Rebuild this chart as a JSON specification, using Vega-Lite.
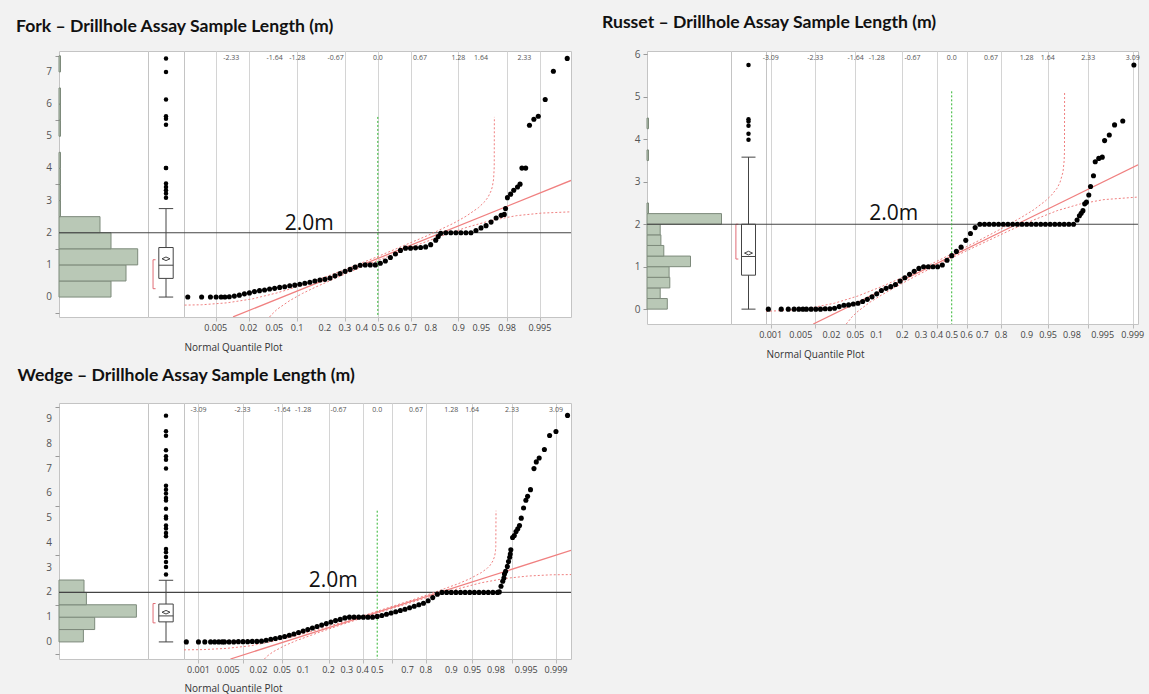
{
"$schema": "https://vega.github.io/schema/vega-lite/v6.json",
"background": "#f2f2f2",
"padding": {"left": 15, "top": 13, "right": 5, "bottom": 0},
"columns": 7,
"spacing": {"row": 79, "column": 0},
"bounds": "flush",
"align": "each",
"config": {
  "font": "Open Sans",
  "view": {"stroke": "#c4c4c4", "fill": "white"},
  "axis": {"labelFont": "Open Sans", "titleFont": "Open Sans", "labelOverlap": false}
},
"datasets": {
  "tl": [{"z":-3.09,"t":"-3.09"},{"z":-2.33,"t":"-2.33"},{"z":-1.64,"t":"-1.64"},{"z":-1.28,"t":"-1.28"},{"z":-0.67,"t":"-0.67"},{"z":0,"t":"0.0"},{"z":0.67,"t":"0.67"},{"z":1.28,"t":"1.28"},{"z":1.64,"t":"1.64"},{"z":2.33,"t":"2.33"},{"z":3.09,"t":"3.09"}],
  "pl": [{"z":-3.0902,"p":"0.001"},{"z":-2.5758,"p":"0.005"},{"z":-2.0537,"p":"0.02"},{"z":-1.6449,"p":"0.05"},{"z":-1.2816,"p":"0.1"},{"z":-0.8416,"p":"0.2"},{"z":-0.5244,"p":"0.3"},{"z":-0.2533,"p":"0.4"},{"z":0,"p":"0.5"},{"z":0.2533,"p":"0.6"},{"z":0.5244,"p":"0.7"},{"z":0.8416,"p":"0.8"},{"z":1.2816,"p":"0.9"},{"z":1.6449,"p":"0.95"},{"z":2.0537,"p":"0.98"},{"z":2.5758,"p":"0.995"},{"z":3.0902,"p":"0.999"}],
  "fy": [{"v":0,"t":"0"},{"v":1,"t":"1"},{"v":2,"t":"2"},{"v":3,"t":"3"},{"v":4,"t":"4"},{"v":5,"t":"5"},{"v":6,"t":"6"},{"v":7,"t":"7"}],
  "wy": [{"v":0,"t":"0"},{"v":1,"t":"1"},{"v":2,"t":"2"},{"v":3,"t":"3"},{"v":4,"t":"4"},{"v":5,"t":"5"},{"v":6,"t":"6"},{"v":7,"t":"7"},{"v":8,"t":"8"},{"v":9,"t":"9"}],
  "fh": [{"b0":0,"b1":0.5,"c":52},{"b0":0.5,"b1":1,"c":67},{"b0":1,"b1":1.5,"c":78.7},{"b0":1.5,"b1":2,"c":52},{"b0":2,"b1":2.5,"c":41},{"b0":2.5,"b1":3,"c":1.5},{"b0":3,"b1":3.5,"c":1.5},{"b0":3.5,"b1":4,"c":1.5},{"b0":4,"b1":4.5,"c":1.5},{"b0":5,"b1":5.5,"c":1.5},{"b0":5.5,"b1":6,"c":1.5},{"b0":6,"b1":6.5,"c":1.5},{"b0":7,"b1":7.5,"c":1.5}],
  "rh": [{"b0":0,"b1":0.25,"c":20.3},{"b0":0.25,"b1":0.5,"c":13.2},{"b0":0.5,"b1":0.75,"c":22.8},{"b0":0.75,"b1":1,"c":22.1},{"b0":1,"b1":1.25,"c":43.5},{"b0":1.25,"b1":1.5,"c":16.8},{"b0":1.5,"b1":1.75,"c":13.9},{"b0":1.75,"b1":2,"c":13.2},{"b0":2,"b1":2.25,"c":74.5},{"b0":2.25,"b1":2.5,"c":1.5},{"b0":3.5,"b1":3.75,"c":1.5},{"b0":4.25,"b1":4.5,"c":1.5}],
  "wh": [{"b0":0,"b1":0.5,"c":24.4},{"b0":0.5,"b1":1,"c":35.7},{"b0":1,"b1":1.5,"c":77.4},{"b0":1.5,"b1":2,"c":27.4},{"b0":2,"b1":2.5,"c":25}],
  "fb": [{"lo":0,"q1":0.58,"med":0.99,"q3":1.54,"hi":2.75,"mean":1.19,"blo":0.26,"bhi":1.16}],
  "rb": [{"lo":0,"q1":0.80,"med":1.24,"q3":2.0,"hi":3.58,"mean":1.32,"blo":1.18,"bhi":2.0}],
  "wb": [{"lo":0,"q1":0.81,"med":1.05,"q3":1.53,"hi":2.49,"mean":1.2,"blo":0.77,"bhi":1.55}],
  "fo": [{"v":3.09},{"v":3.22},{"v":3.32},{"v":3.42},{"v":3.53},{"v":4.01},{"v":4.01},{"v":5.36},{"v":5.54},{"v":5.62},{"v":6.14},{"v":7.0},{"v":7.42}],
  "ro": [{"v":3.99},{"v":4.13},{"v":4.32},{"v":4.42},{"v":4.47},{"v":5.75}],
  "wo": [{"v":2.72},{"v":3.03},{"v":3.23},{"v":3.43},{"v":3.62},{"v":3.75},{"v":4.27},{"v":4.40},{"v":4.58},{"v":4.70},{"v":4.98},{"v":5.07},{"v":5.38},{"v":5.71},{"v":5.81},{"v":5.99},{"v":6.15},{"v":6.31},{"v":7.0},{"v":7.36},{"v":7.50},{"v":7.74},{"v":8.33},{"v":8.51},{"v":9.14}],
  "fp": [{"z":-3.02,"v":0},{"z":-2.80,"v":0},{"z":-2.66,"v":0},{"z":-2.57,"v":0},{"z":-2.49,"v":0},{"z":-2.43,"v":0},
    {"z":-2.36,"v":0.01},{"z":-2.28,"v":0.03},{"z":-2.20,"v":0.06},{"z":-2.12,"v":0.10},{"z":-2.04,"v":0.13},{"z":-1.96,"v":0.17},{"z":-1.88,"v":0.20},{"z":-1.80,"v":0.22},{"z":-1.72,"v":0.25},{"z":-1.64,"v":0.27},{"z":-1.56,"v":0.30},{"z":-1.48,"v":0.32},{"z":-1.40,"v":0.35},{"z":-1.32,"v":0.37},{"z":-1.24,"v":0.40},{"z":-1.16,"v":0.43},{"z":-1.08,"v":0.46},{"z":-1.00,"v":0.50},{"z":-0.92,"v":0.53},{"z":-0.84,"v":0.55},{"z":-0.76,"v":0.59},{"z":-0.68,"v":0.66},{"z":-0.60,"v":0.73},{"z":-0.52,"v":0.80},{"z":-0.44,"v":0.86},{"z":-0.36,"v":0.93},{"z":-0.28,"v":0.99},{"z":-0.20,"v":1.00},{"z":-0.12,"v":1.00},{"z":-0.04,"v":1.00},{"z":0.04,"v":1.05},{"z":0.12,"v":1.12},{"z":0.20,"v":1.23},{"z":0.28,"v":1.34},{"z":0.36,"v":1.45},{"z":0.44,"v":1.52},{"z":0.52,"v":1.52},{"z":0.60,"v":1.53},{"z":0.68,"v":1.54},{"z":0.76,"v":1.56},{"z":0.84,"v":1.63},{"z":0.92,"v":1.77},{"z":0.96,"v":1.88},{"z":1.00,"v":1.98},{"z":1.08,"v":2.00},{"z":1.16,"v":2.00},{"z":1.24,"v":2.00},{"z":1.32,"v":2.00},{"z":1.40,"v":2.00},{"z":1.48,"v":2.00},{"z":1.56,"v":2.07},{"z":1.64,"v":2.15},{"z":1.72,"v":2.22},{"z":1.80,"v":2.33},{"z":1.88,"v":2.46},{"z":1.96,"v":2.54},{"z":2.01,"v":2.57},
    {"z":2.03,"v":2.75},{"z":2.06,"v":3.09},{"z":2.11,"v":3.20},{"z":2.16,"v":3.32},{"z":2.22,"v":3.42},{"z":2.26,"v":3.51},{"z":2.29,"v":4.01},{"z":2.35,"v":4.01},{"z":2.41,"v":5.34},{"z":2.48,"v":5.53},{"z":2.55,"v":5.62},{"z":2.66,"v":6.14},{"z":2.79,"v":7.02},{"z":3.01,"v":7.42}],
  "rp": [{"z":-3.13,"v":0},{"z":-2.91,"v":0},{"z":-2.79,"v":0},{"z":-2.69,"v":0},{"z":-2.61,"v":0},{"z":-2.54,"v":0},
    {"z":-2.48,"v":0},{"z":-2.40,"v":0},{"z":-2.32,"v":0},{"z":-2.24,"v":0},{"z":-2.16,"v":0.01},{"z":-2.08,"v":0.01},{"z":-2.00,"v":0.02},{"z":-1.92,"v":0.06},{"z":-1.84,"v":0.09},{"z":-1.76,"v":0.10},{"z":-1.68,"v":0.12},{"z":-1.60,"v":0.14},{"z":-1.52,"v":0.18},{"z":-1.44,"v":0.23},{"z":-1.36,"v":0.29},{"z":-1.28,"v":0.36},{"z":-1.20,"v":0.44},{"z":-1.12,"v":0.49},{"z":-1.04,"v":0.53},{"z":-0.96,"v":0.58},{"z":-0.88,"v":0.66},{"z":-0.80,"v":0.74},{"z":-0.72,"v":0.82},{"z":-0.64,"v":0.89},{"z":-0.56,"v":0.96},{"z":-0.48,"v":1.00},{"z":-0.40,"v":1.00},{"z":-0.32,"v":1.00},{"z":-0.24,"v":1.00},{"z":-0.16,"v":1.04},{"z":-0.08,"v":1.15},{"z":0.00,"v":1.26},{"z":0.08,"v":1.36},{"z":0.16,"v":1.46},{"z":0.24,"v":1.62},{"z":0.32,"v":1.78},{"z":0.40,"v":1.92},{"z":0.48,"v":2.00},{"z":0.56,"v":2.00},{"z":0.64,"v":2.00},{"z":0.72,"v":2.00},{"z":0.80,"v":2.00},{"z":0.88,"v":2.00},{"z":0.96,"v":2.00},{"z":1.04,"v":2.00},{"z":1.12,"v":2.00},{"z":1.20,"v":2.00},{"z":1.28,"v":2.00},{"z":1.36,"v":2.00},{"z":1.44,"v":2.00},{"z":1.52,"v":2.00},{"z":1.60,"v":2.00},{"z":1.68,"v":2.00},{"z":1.76,"v":2.00},{"z":1.84,"v":2.00},{"z":1.92,"v":2.00},{"z":2.00,"v":2.00},{"z":2.08,"v":2.00},
    {"z":2.14,"v":2.10},{"z":2.18,"v":2.20},{"z":2.21,"v":2.26},{"z":2.24,"v":2.32},{"z":2.27,"v":2.48},{"z":2.30,"v":2.52},{"z":2.34,"v":2.69},{"z":2.37,"v":2.89},{"z":2.42,"v":3.14},{"z":2.45,"v":3.47},{"z":2.51,"v":3.55},{"z":2.57,"v":3.58},{"z":2.61,"v":3.97},{"z":2.69,"v":4.10},{"z":2.78,"v":4.34},{"z":2.92,"v":4.43},{"z":3.11,"v":5.75}],
  "wp": [{"z":-3.30,"v":0},{"z":-3.09,"v":0},{"z":-2.98,"v":0},{"z":-2.88,"v":0},{"z":-2.81,"v":0},{"z":-2.74,"v":0},{"z":-2.68,"v":0},
    {"z":-2.64,"v":0},{"z":-2.56,"v":0},{"z":-2.48,"v":0},{"z":-2.40,"v":0.01},{"z":-2.32,"v":0.01},{"z":-2.24,"v":0.01},{"z":-2.16,"v":0.02},{"z":-2.08,"v":0.02},{"z":-2.00,"v":0.03},{"z":-1.92,"v":0.07},{"z":-1.84,"v":0.11},{"z":-1.76,"v":0.14},{"z":-1.68,"v":0.18},{"z":-1.60,"v":0.22},{"z":-1.52,"v":0.27},{"z":-1.44,"v":0.32},{"z":-1.36,"v":0.38},{"z":-1.28,"v":0.44},{"z":-1.20,"v":0.50},{"z":-1.12,"v":0.56},{"z":-1.04,"v":0.62},{"z":-0.96,"v":0.68},{"z":-0.88,"v":0.74},{"z":-0.80,"v":0.80},{"z":-0.72,"v":0.86},{"z":-0.64,"v":0.91},{"z":-0.56,"v":0.97},{"z":-0.48,"v":1.00},{"z":-0.40,"v":1.00},{"z":-0.32,"v":1.00},{"z":-0.24,"v":1.00},{"z":-0.16,"v":1.00},{"z":-0.08,"v":1.00},{"z":0.00,"v":1.03},{"z":0.08,"v":1.07},{"z":0.16,"v":1.12},{"z":0.24,"v":1.17},{"z":0.32,"v":1.22},{"z":0.40,"v":1.27},{"z":0.48,"v":1.32},{"z":0.56,"v":1.38},{"z":0.64,"v":1.44},{"z":0.72,"v":1.50},{"z":0.80,"v":1.56},{"z":0.88,"v":1.66},{"z":0.96,"v":1.79},{"z":1.04,"v":1.93},{"z":1.12,"v":2.00},{"z":1.20,"v":2.00},{"z":1.28,"v":2.00},{"z":1.36,"v":2.00},{"z":1.44,"v":2.00},{"z":1.52,"v":2.00},{"z":1.60,"v":2.00},{"z":1.68,"v":2.00},{"z":1.76,"v":2.00},{"z":1.84,"v":2.00},{"z":1.92,"v":2.00},{"z":2.00,"v":2.00},{"z":2.08,"v":2.00},
    {"z":2.11,"v":2.02},{"z":2.14,"v":2.25},{"z":2.17,"v":2.45},{"z":2.19,"v":2.58},{"z":2.20,"v":2.74},{"z":2.22,"v":2.85},{"z":2.25,"v":3.05},{"z":2.27,"v":3.25},{"z":2.29,"v":3.42},{"z":2.30,"v":3.55},{"z":2.31,"v":3.72},{"z":2.34,"v":4.22},{"z":2.37,"v":4.30},{"z":2.40,"v":4.46},{"z":2.43,"v":4.57},{"z":2.46,"v":4.70},{"z":2.49,"v":5.00},{"z":2.53,"v":5.41},{"z":2.57,"v":5.72},{"z":2.60,"v":5.88},{"z":2.65,"v":6.15},{"z":2.71,"v":7.00},{"z":2.75,"v":7.27},{"z":2.80,"v":7.43},{"z":2.89,"v":7.77},{"z":2.98,"v":8.34},{"z":3.09,"v":8.50},{"z":3.29,"v":9.15}],
  "ff": [{"k":"fit","z":-2.3,"v":-0.617},{"k":"fit","z":3.07,"v":3.625},
    {"k":"hi","z":-3.07,"v":-0.25},{"k":"hi","z":-2.8,"v":-0.24},{"k":"hi","z":-2.4,"v":-0.18},{"k":"hi","z":-2.0,"v":-0.06},{"k":"hi","z":-1.6,"v":0.13},{"k":"hi","z":-1.2,"v":0.37},{"k":"hi","z":-0.8,"v":0.65},{"k":"hi","z":-0.4,"v":0.95},{"k":"hi","z":0,"v":1.26},{"k":"hi","z":0.4,"v":1.59},{"k":"hi","z":0.8,"v":1.92},{"k":"hi","z":1.2,"v":2.29},{"k":"hi","z":1.4,"v":2.51},{"k":"hi","z":1.6,"v":2.78},{"k":"hi","z":1.7,"v":2.97},{"k":"hi","z":1.75,"v":3.10},{"k":"hi","z":1.8,"v":3.30},{"k":"hi","z":1.82,"v":3.43},{"k":"hi","z":1.84,"v":3.67},{"k":"hi","z":1.85,"v":4.04},{"k":"hi","z":1.852,"v":5.6},
    {"k":"lo","z":-1.72,"v":-0.62},{"k":"lo","z":-1.7,"v":-0.57},{"k":"lo","z":-1.6,"v":-0.38},{"k":"lo","z":-1.4,"v":-0.11},{"k":"lo","z":-1.2,"v":0.11},{"k":"lo","z":-1.0,"v":0.30},{"k":"lo","z":-0.6,"v":0.65},{"k":"lo","z":-0.2,"v":0.98},{"k":"lo","z":0.2,"v":1.29},{"k":"lo","z":0.6,"v":1.60},{"k":"lo","z":1.0,"v":1.89},{"k":"lo","z":1.4,"v":2.16},{"k":"lo","z":1.8,"v":2.38},{"k":"lo","z":2.2,"v":2.53},{"k":"lo","z":2.6,"v":2.61},{"k":"lo","z":3.07,"v":2.65}],
  "rf": [{"k":"fit","z":-2.363,"v":-0.35},{"k":"fit","z":3.18,"v":3.40},
    {"k":"hi","z":-3.17,"v":-0.05},{"k":"hi","z":-2.8,"v":-0.03},{"k":"hi","z":-2.4,"v":0.03},{"k":"hi","z":-2.0,"v":0.14},{"k":"hi","z":-1.6,"v":0.31},{"k":"hi","z":-1.2,"v":0.53},{"k":"hi","z":-0.8,"v":0.77},{"k":"hi","z":-0.4,"v":1.03},{"k":"hi","z":0,"v":1.30},{"k":"hi","z":0.4,"v":1.57},{"k":"hi","z":0.8,"v":1.86},{"k":"hi","z":1.2,"v":2.17},{"k":"hi","z":1.4,"v":2.34},{"k":"hi","z":1.6,"v":2.55},{"k":"hi","z":1.7,"v":2.68},{"k":"hi","z":1.8,"v":2.85},{"k":"hi","z":1.85,"v":2.99},{"k":"hi","z":1.9,"v":3.23},{"k":"hi","z":1.92,"v":3.50},{"k":"hi","z":1.925,"v":3.73},{"k":"hi","z":1.927,"v":5.13},
    {"k":"lo","z":-1.80,"v":-0.35},{"k":"lo","z":-1.7,"v":-0.18},{"k":"lo","z":-1.6,"v":-0.05},{"k":"lo","z":-1.4,"v":0.16},{"k":"lo","z":-1.2,"v":0.33},{"k":"lo","z":-1.0,"v":0.49},{"k":"lo","z":-0.6,"v":0.79},{"k":"lo","z":-0.2,"v":1.07},{"k":"lo","z":0.2,"v":1.34},{"k":"lo","z":0.6,"v":1.60},{"k":"lo","z":1.0,"v":1.86},{"k":"lo","z":1.4,"v":2.10},{"k":"lo","z":1.8,"v":2.32},{"k":"lo","z":2.2,"v":2.48},{"k":"lo","z":2.6,"v":2.58},{"k":"lo","z":3.18,"v":2.64}],
  "wf": [{"k":"fit","z":-2.537,"v":-0.69},{"k":"fit","z":3.35,"v":3.696},
    {"k":"hi","z":-3.34,"v":-0.32},{"k":"hi","z":-3.0,"v":-0.31},{"k":"hi","z":-2.6,"v":-0.26},{"k":"hi","z":-2.2,"v":-0.16},{"k":"hi","z":-1.8,"v":0.02},{"k":"hi","z":-1.4,"v":0.25},{"k":"hi","z":-1.0,"v":0.52},{"k":"hi","z":-0.6,"v":0.80},{"k":"hi","z":-0.2,"v":1.09},{"k":"hi","z":0.2,"v":1.39},{"k":"hi","z":0.6,"v":1.69},{"k":"hi","z":1.0,"v":2.01},{"k":"hi","z":1.4,"v":2.35},{"k":"hi","z":1.6,"v":2.55},{"k":"hi","z":1.8,"v":2.80},{"k":"hi","z":1.9,"v":2.97},{"k":"hi","z":1.95,"v":3.09},{"k":"hi","z":2.0,"v":3.27},{"k":"hi","z":2.03,"v":3.46},{"k":"hi","z":2.045,"v":3.68},{"k":"hi","z":2.05,"v":3.86},{"k":"hi","z":2.054,"v":5.3},
    {"k":"lo","z":-1.95,"v":-0.69},{"k":"lo","z":-1.9,"v":-0.57},{"k":"lo","z":-1.8,"v":-0.40},{"k":"lo","z":-1.6,"v":-0.15},{"k":"lo","z":-1.4,"v":0.05},{"k":"lo","z":-1.0,"v":0.39},{"k":"lo","z":-0.6,"v":0.71},{"k":"lo","z":-0.2,"v":1.01},{"k":"lo","z":0.2,"v":1.31},{"k":"lo","z":0.6,"v":1.60},{"k":"lo","z":1.0,"v":1.89},{"k":"lo","z":1.4,"v":2.15},{"k":"lo","z":1.8,"v":2.39},{"k":"lo","z":2.2,"v":2.56},{"k":"lo","z":2.6,"v":2.66},{"k":"lo","z":3.0,"v":2.71},{"k":"lo","z":3.35,"v":2.72}]
},
"concat": [
  {
    "width": 89, "height": 266,
    "title": {"text": "Fork – Drillhole Assay Sample Length (m)", "anchor": "start", "frame": "group", "dx": -43, "offset": 1, "baseline": "alphabetic", "font": "Lato", "fontSize": 17.6, "fontWeight": "bold", "color": "#111"},
    "layer": [
      {"data": {"name": "fh"}, "mark": {"type": "rect", "fill": "#b9c8b6", "stroke": "#7d8a7b", "strokeWidth": 1},
       "encoding": {
         "y": {"field": "b0", "type": "quantitative", "scale": {"domain": [-0.62, 7.65], "nice": false, "zero": false},
               "axis": {"values": [-0.5,0,0.5,1,1.5,2,2.5,3,3.5,4,4.5,5,5.5,6,6.5,7,7.5], "labels": false, "title": null, "domain": false, "tickSize": 4, "tickColor": "#999", "grid": false}},
         "y2": {"field": "b1"},
         "x": {"field": "c", "type": "quantitative", "scale": {"domain": [0, 89], "nice": false, "zero": false}, "axis": null},
         "x2": {"datum": 0}
       }},
      {"data": {"name": "fy"}, "mark": {"type": "text", "align": "right", "baseline": "middle", "dx": -7, "fontSize": 10, "color": "#555"},
       "encoding": {"x": {"datum": 0, "type": "quantitative", "axis": null}, "y": {"field": "v", "type": "quantitative"}, "text": {"field": "t"}}},
      {"data": {"values": [{}]}, "mark": {"type": "rule", "color": "#444", "strokeWidth": 1.2},
       "encoding": {"y": {"datum": 2, "type": "quantitative"}}}
    ]
  },
  {
    "width": 36, "height": 266,
    "layer": [
      {"data": {"name": "fb"}, "mark": {"type": "rule", "color": "#444"},
       "encoding": {"x": {"datum": 0.5, "type": "quantitative", "scale": {"domain": [0, 1], "nice": false, "zero": false}, "axis": null},
                    "y": {"field": "lo", "type": "quantitative", "scale": {"domain": [-0.62, 7.65], "nice": false, "zero": false}, "axis": null},
                    "y2": {"field": "hi"}}},
      {"data": {"name": "fb"}, "mark": {"type": "rule", "color": "#444"},
       "encoding": {"x": {"datum": 0.3, "type": "quantitative", "axis": null}, "x2": {"datum": 0.7}, "y": {"field": "lo", "type": "quantitative", "axis": null}}},
      {"data": {"name": "fb"}, "mark": {"type": "rule", "color": "#444"},
       "encoding": {"x": {"datum": 0.3, "type": "quantitative", "axis": null}, "x2": {"datum": 0.7}, "y": {"field": "hi", "type": "quantitative", "axis": null}}},
      {"data": {"name": "fb"}, "mark": {"type": "rect", "fill": "white", "stroke": "#444", "strokeWidth": 1},
       "encoding": {"x": {"datum": 0.3, "type": "quantitative", "axis": null}, "x2": {"datum": 0.7}, "y": {"field": "q1", "type": "quantitative", "axis": null}, "y2": {"field": "q3"}}},
      {"data": {"name": "fb"}, "mark": {"type": "rule", "color": "#444"},
       "encoding": {"x": {"datum": 0.3, "type": "quantitative", "axis": null}, "x2": {"datum": 0.7}, "y": {"field": "med", "type": "quantitative", "axis": null}}},
      {"data": {"name": "fb"}, "mark": {"type": "point", "shape": "M-1,0L0,-0.45L1,0L0,0.45Z", "size": 64, "filled": false, "stroke": "#444", "strokeWidth": 1, "opacity": 1},
       "encoding": {"x": {"datum": 0.5, "type": "quantitative", "axis": null}, "y": {"field": "mean", "type": "quantitative", "axis": null}}},
      {"data": {"name": "fb"}, "mark": {"type": "rule", "color": "#e06c75"},
       "encoding": {"x": {"datum": 0.14, "type": "quantitative", "axis": null}, "y": {"field": "blo", "type": "quantitative", "axis": null}, "y2": {"field": "bhi"}}},
      {"data": {"name": "fb"}, "mark": {"type": "rule", "color": "#e06c75"},
       "encoding": {"x": {"datum": 0.14, "type": "quantitative", "axis": null}, "x2": {"datum": 0.21}, "y": {"field": "blo", "type": "quantitative", "axis": null}}},
      {"data": {"name": "fb"}, "mark": {"type": "rule", "color": "#e06c75"},
       "encoding": {"x": {"datum": 0.14, "type": "quantitative", "axis": null}, "x2": {"datum": 0.21}, "y": {"field": "bhi", "type": "quantitative", "axis": null}}},
      {"data": {"name": "fo"}, "mark": {"type": "circle", "color": "black", "size": 20, "opacity": 1},
       "encoding": {"x": {"datum": 0.5, "type": "quantitative", "axis": null}, "y": {"field": "v", "type": "quantitative", "axis": null}}},
      {"data": {"values": [{}]}, "mark": {"type": "rule", "color": "#444", "strokeWidth": 1.2},
       "encoding": {"y": {"datum": 2, "type": "quantitative", "axis": null}}}
    ]
  },
  {
    "width": 387, "height": 266,
    "layer": [
      {"data": {"values": [{}]}, "mark": {"type": "rule", "color": "#444", "strokeWidth": 1.2},
       "encoding": {"y": {"datum": 2, "type": "quantitative", "scale": {"domain": [-0.62, 7.65], "nice": false, "zero": false}, "axis": null}}},
      {"data": {"values": [{}]}, "mark": {"type": "rule", "color": "#2fb52f", "strokeDash": [2, 2], "strokeWidth": 1},
       "encoding": {"x": {"datum": 0, "type": "quantitative"}, "y": {"datum": 5.6, "type": "quantitative", "axis": null}, "y2": {"datum": -0.62}}},
      {"data": {"name": "tl"}, "transform": [{"filter": "abs(datum.z) < 3"}],
       "mark": {"type": "text", "baseline": "top", "dy": 3, "fontSize": 7, "color": "#555"},
       "encoding": {"x": {"field": "z", "type": "quantitative"}, "y": {"datum": 7.65, "type": "quantitative", "axis": null}, "text": {"field": "t"}}},
      {"data": {"name": "pl"}, "transform": [{"filter": "abs(datum.z) < 3"}],
       "mark": {"type": "text", "baseline": "top", "dy": 7, "fontSize": 9, "color": "#444"},
       "encoding": {"x": {"field": "z", "type": "quantitative"}, "y": {"datum": -0.62, "type": "quantitative", "axis": null}, "text": {"field": "p"}}},
      {"data": {"name": "ff"}, "transform": [{"filter": "datum.k != 'fit'"}],
       "mark": {"type": "line", "color": "#f08080", "strokeDash": [2, 2], "strokeWidth": 1, "clip": true},
       "encoding": {"x": {"field": "z", "type": "quantitative"}, "y": {"field": "v", "type": "quantitative", "axis": null}, "detail": {"field": "k"}}},
      {"data": {"name": "ff"}, "transform": [{"filter": "datum.k == 'fit'"}],
       "mark": {"type": "line", "color": "#f08080", "strokeWidth": 1.3, "clip": true},
       "encoding": {"x": {"field": "z", "type": "quantitative"}, "y": {"field": "v", "type": "quantitative", "axis": null}}},
      {"data": {"values": [{}]}, "mark": {"type": "text", "text": "2.0m", "font": "Open Sans", "fontSize": 21, "color": "#111", "baseline": "alphabetic", "align": "center", "dy": -3},
       "encoding": {"x": {"datum": -1.09, "type": "quantitative"}, "y": {"datum": 2, "type": "quantitative", "axis": null}}},
      {"data": {"name": "fp"}, "mark": {"type": "circle", "color": "black", "size": 26, "opacity": 1},
       "encoding": {
         "x": {"field": "z", "type": "quantitative", "scale": {"domain": [-3.08, 3.07], "nice": false, "zero": false},
               "axis": {"values": [-2.5758,-2.3263,-2.0537,-1.6449,-1.2816,-0.8416,-0.5244,-0.2533,0,0.2533,0.5244,0.8416,1.2816,1.6449,2.0537,2.3263,2.5758],
                        "labels": false, "grid": true, "gridColor": "#d4d4d4", "domain": false, "tickSize": 4, "tickColor": "#bbb",
                        "title": "Normal Quantile Plot", "titleFontSize": 10, "titleFontWeight": "normal", "titleColor": "#333", "titleAnchor": "start", "titleAlign": "left", "titleX": 0, "titleY": 30, "titleBaseline": "middle"}},
         "y": {"field": "v", "type": "quantitative", "axis": null}
       }}
    ]
  },
  {
    "width": 76, "height": 20, "view": {"stroke": null, "fill": null},
    "data": {"values": [{}]}, "mark": {"type": "point", "opacity": 0}, "encoding": {}
  },
  {
    "width": 84, "height": 273,
    "title": {"text": "Russet – Drillhole Assay Sample Length (m)", "anchor": "start", "frame": "group", "dx": -45, "offset": 3.5, "baseline": "alphabetic", "font": "Lato", "fontSize": 17.6, "fontWeight": "bold", "color": "#111"},
    "layer": [
      {"data": {"name": "rh"}, "mark": {"type": "rect", "fill": "#b9c8b6", "stroke": "#7d8a7b", "strokeWidth": 1},
       "encoding": {
         "y": {"field": "b0", "type": "quantitative", "scale": {"domain": [-0.35, 6.08], "nice": false, "zero": false},
               "axis": {"values": [0,0.5,1,1.5,2,2.5,3,3.5,4,4.5,5,5.5,6], "format": "~g", "title": null, "domain": false, "tickSize": 4, "tickColor": "#999", "labelColor": "#555", "labelFontSize": 10, "labelPadding": 3, "grid": false}},
         "y2": {"field": "b1"},
         "x": {"field": "c", "type": "quantitative", "scale": {"domain": [0, 84], "nice": false, "zero": false}, "axis": null},
         "x2": {"datum": 0}
       }},
      {"data": {"values": [{}]}, "mark": {"type": "rule", "color": "#444", "strokeWidth": 1.2},
       "encoding": {"y": {"datum": 2, "type": "quantitative"}}}
    ]
  },
  {
    "width": 35, "height": 273,
    "layer": [
      {"data": {"name": "rb"}, "mark": {"type": "rule", "color": "#444"},
       "encoding": {"x": {"datum": 0.5, "type": "quantitative", "scale": {"domain": [0, 1], "nice": false, "zero": false}, "axis": null},
                    "y": {"field": "lo", "type": "quantitative", "scale": {"domain": [-0.35, 6.08], "nice": false, "zero": false}, "axis": null},
                    "y2": {"field": "hi"}}},
      {"data": {"name": "rb"}, "mark": {"type": "rule", "color": "#444"},
       "encoding": {"x": {"datum": 0.3, "type": "quantitative", "axis": null}, "x2": {"datum": 0.7}, "y": {"field": "lo", "type": "quantitative", "axis": null}}},
      {"data": {"name": "rb"}, "mark": {"type": "rule", "color": "#444"},
       "encoding": {"x": {"datum": 0.3, "type": "quantitative", "axis": null}, "x2": {"datum": 0.7}, "y": {"field": "hi", "type": "quantitative", "axis": null}}},
      {"data": {"name": "rb"}, "mark": {"type": "rect", "fill": "white", "stroke": "#444", "strokeWidth": 1},
       "encoding": {"x": {"datum": 0.3, "type": "quantitative", "axis": null}, "x2": {"datum": 0.7}, "y": {"field": "q1", "type": "quantitative", "axis": null}, "y2": {"field": "q3"}}},
      {"data": {"name": "rb"}, "mark": {"type": "rule", "color": "#444"},
       "encoding": {"x": {"datum": 0.3, "type": "quantitative", "axis": null}, "x2": {"datum": 0.7}, "y": {"field": "med", "type": "quantitative", "axis": null}}},
      {"data": {"name": "rb"}, "mark": {"type": "point", "shape": "M-1,0L0,-0.45L1,0L0,0.45Z", "size": 64, "filled": false, "stroke": "#444", "strokeWidth": 1, "opacity": 1},
       "encoding": {"x": {"datum": 0.5, "type": "quantitative", "axis": null}, "y": {"field": "mean", "type": "quantitative", "axis": null}}},
      {"data": {"name": "rb"}, "mark": {"type": "rule", "color": "#e06c75"},
       "encoding": {"x": {"datum": 0.14, "type": "quantitative", "axis": null}, "y": {"field": "blo", "type": "quantitative", "axis": null}, "y2": {"field": "bhi"}}},
      {"data": {"name": "rb"}, "mark": {"type": "rule", "color": "#e06c75"},
       "encoding": {"x": {"datum": 0.14, "type": "quantitative", "axis": null}, "x2": {"datum": 0.21}, "y": {"field": "blo", "type": "quantitative", "axis": null}}},
      {"data": {"name": "rb"}, "mark": {"type": "rule", "color": "#e06c75"},
       "encoding": {"x": {"datum": 0.14, "type": "quantitative", "axis": null}, "x2": {"datum": 0.21}, "y": {"field": "bhi", "type": "quantitative", "axis": null}}},
      {"data": {"name": "ro"}, "mark": {"type": "circle", "color": "black", "size": 20, "opacity": 1},
       "encoding": {"x": {"datum": 0.5, "type": "quantitative", "axis": null}, "y": {"field": "v", "type": "quantitative", "axis": null}}},
      {"data": {"values": [{}]}, "mark": {"type": "rule", "color": "#444", "strokeWidth": 1.2},
       "encoding": {"y": {"datum": 2, "type": "quantitative", "axis": null}}}
    ]
  },
  {
    "width": 372, "height": 273,
    "layer": [
      {"data": {"values": [{}]}, "mark": {"type": "rule", "color": "#444", "strokeWidth": 1.2},
       "encoding": {"y": {"datum": 2, "type": "quantitative", "scale": {"domain": [-0.35, 6.08], "nice": false, "zero": false}, "axis": null}}},
      {"data": {"values": [{}]}, "mark": {"type": "rule", "color": "#2fb52f", "strokeDash": [2, 2], "strokeWidth": 1},
       "encoding": {"x": {"datum": 0, "type": "quantitative"}, "y": {"datum": 5.13, "type": "quantitative", "axis": null}, "y2": {"datum": -0.35}}},
      {"data": {"name": "tl"},
       "mark": {"type": "text", "baseline": "top", "dy": 3, "fontSize": 7, "color": "#555"},
       "encoding": {"x": {"field": "z", "type": "quantitative"}, "y": {"datum": 6.08, "type": "quantitative", "axis": null}, "text": {"field": "t"}}},
      {"data": {"name": "pl"},
       "mark": {"type": "text", "baseline": "top", "dy": 7, "fontSize": 9, "color": "#444"},
       "encoding": {"x": {"field": "z", "type": "quantitative"}, "y": {"datum": -0.35, "type": "quantitative", "axis": null}, "text": {"field": "p"}}},
      {"data": {"name": "rf"}, "transform": [{"filter": "datum.k != 'fit'"}],
       "mark": {"type": "line", "color": "#f08080", "strokeDash": [2, 2], "strokeWidth": 1, "clip": true},
       "encoding": {"x": {"field": "z", "type": "quantitative"}, "y": {"field": "v", "type": "quantitative", "axis": null}, "detail": {"field": "k"}}},
      {"data": {"name": "rf"}, "transform": [{"filter": "datum.k == 'fit'"}],
       "mark": {"type": "line", "color": "#f08080", "strokeWidth": 1.3, "clip": true},
       "encoding": {"x": {"field": "z", "type": "quantitative"}, "y": {"field": "v", "type": "quantitative", "axis": null}}},
      {"data": {"values": [{}]}, "mark": {"type": "text", "text": "2.0m", "font": "Open Sans", "fontSize": 21, "color": "#111", "baseline": "alphabetic", "align": "center", "dy": -4},
       "encoding": {"x": {"datum": -0.99, "type": "quantitative"}, "y": {"datum": 2, "type": "quantitative", "axis": null}}},
      {"data": {"name": "rp"}, "mark": {"type": "circle", "color": "black", "size": 26, "opacity": 1},
       "encoding": {
         "x": {"field": "z", "type": "quantitative", "scale": {"domain": [-3.17, 3.18], "nice": false, "zero": false},
               "axis": {"values": [-3.0902,-2.5758,-2.3263,-2.0537,-1.6449,-1.2816,-0.8416,-0.5244,-0.2533,0,0.2533,0.5244,0.8416,1.2816,1.6449,2.0537,2.3263,2.5758,3.0902],
                        "labels": false, "grid": true, "gridColor": "#d4d4d4", "domain": false, "tickSize": 4, "tickColor": "#bbb",
                        "title": "Normal Quantile Plot", "titleFontSize": 10, "titleFontWeight": "normal", "titleColor": "#333", "titleAnchor": "start", "titleAlign": "left", "titleX": 0, "titleY": 30, "titleBaseline": "middle"}},
         "y": {"field": "v", "type": "quantitative", "axis": null}
       }}
    ]
  },
  {
    "width": 89, "height": 256,
    "title": {"text": "Wedge – Drillhole Assay Sample Length (m)", "anchor": "start", "frame": "group", "dx": -41.5, "offset": 4.5, "baseline": "alphabetic", "font": "Lato", "fontSize": 17.6, "fontWeight": "bold", "color": "#111"},
    "layer": [
      {"data": {"name": "wh"}, "mark": {"type": "rect", "fill": "#b9c8b6", "stroke": "#7d8a7b", "strokeWidth": 1},
       "encoding": {
         "y": {"field": "b0", "type": "quantitative", "scale": {"domain": [-0.69, 9.65], "nice": false, "zero": false},
               "axis": {"values": [-0.5,0,0.5,1,1.5,2,2.5,3,3.5,4,4.5,5,5.5,6,6.5,7,7.5,8,8.5,9,9.5], "labels": false, "title": null, "domain": false, "tickSize": 4, "tickColor": "#999", "grid": false}},
         "y2": {"field": "b1"},
         "x": {"field": "c", "type": "quantitative", "scale": {"domain": [0, 89], "nice": false, "zero": false}, "axis": null},
         "x2": {"datum": 0}
       }},
      {"data": {"name": "wy"}, "mark": {"type": "text", "align": "right", "baseline": "middle", "dx": -7, "fontSize": 10, "color": "#555"},
       "encoding": {"x": {"datum": 0, "type": "quantitative", "axis": null}, "y": {"field": "v", "type": "quantitative"}, "text": {"field": "t"}}},
      {"data": {"values": [{}]}, "mark": {"type": "rule", "color": "#444", "strokeWidth": 1.2},
       "encoding": {"y": {"datum": 2, "type": "quantitative"}}}
    ]
  },
  {
    "width": 36, "height": 256,
    "layer": [
      {"data": {"name": "wb"}, "mark": {"type": "rule", "color": "#444"},
       "encoding": {"x": {"datum": 0.5, "type": "quantitative", "scale": {"domain": [0, 1], "nice": false, "zero": false}, "axis": null},
                    "y": {"field": "lo", "type": "quantitative", "scale": {"domain": [-0.69, 9.65], "nice": false, "zero": false}, "axis": null},
                    "y2": {"field": "hi"}}},
      {"data": {"name": "wb"}, "mark": {"type": "rule", "color": "#444"},
       "encoding": {"x": {"datum": 0.3, "type": "quantitative", "axis": null}, "x2": {"datum": 0.7}, "y": {"field": "lo", "type": "quantitative", "axis": null}}},
      {"data": {"name": "wb"}, "mark": {"type": "rule", "color": "#444"},
       "encoding": {"x": {"datum": 0.3, "type": "quantitative", "axis": null}, "x2": {"datum": 0.7}, "y": {"field": "hi", "type": "quantitative", "axis": null}}},
      {"data": {"name": "wb"}, "mark": {"type": "rect", "fill": "white", "stroke": "#444", "strokeWidth": 1},
       "encoding": {"x": {"datum": 0.3, "type": "quantitative", "axis": null}, "x2": {"datum": 0.7}, "y": {"field": "q1", "type": "quantitative", "axis": null}, "y2": {"field": "q3"}}},
      {"data": {"name": "wb"}, "mark": {"type": "rule", "color": "#444"},
       "encoding": {"x": {"datum": 0.3, "type": "quantitative", "axis": null}, "x2": {"datum": 0.7}, "y": {"field": "med", "type": "quantitative", "axis": null}}},
      {"data": {"name": "wb"}, "mark": {"type": "point", "shape": "M-1,0L0,-0.45L1,0L0,0.45Z", "size": 64, "filled": false, "stroke": "#444", "strokeWidth": 1, "opacity": 1},
       "encoding": {"x": {"datum": 0.5, "type": "quantitative", "axis": null}, "y": {"field": "mean", "type": "quantitative", "axis": null}}},
      {"data": {"name": "wb"}, "mark": {"type": "rule", "color": "#e06c75"},
       "encoding": {"x": {"datum": 0.14, "type": "quantitative", "axis": null}, "y": {"field": "blo", "type": "quantitative", "axis": null}, "y2": {"field": "bhi"}}},
      {"data": {"name": "wb"}, "mark": {"type": "rule", "color": "#e06c75"},
       "encoding": {"x": {"datum": 0.14, "type": "quantitative", "axis": null}, "x2": {"datum": 0.21}, "y": {"field": "blo", "type": "quantitative", "axis": null}}},
      {"data": {"name": "wb"}, "mark": {"type": "rule", "color": "#e06c75"},
       "encoding": {"x": {"datum": 0.14, "type": "quantitative", "axis": null}, "x2": {"datum": 0.21}, "y": {"field": "bhi", "type": "quantitative", "axis": null}}},
      {"data": {"name": "wo"}, "mark": {"type": "circle", "color": "black", "size": 20, "opacity": 1},
       "encoding": {"x": {"datum": 0.5, "type": "quantitative", "axis": null}, "y": {"field": "v", "type": "quantitative", "axis": null}}},
      {"data": {"values": [{}]}, "mark": {"type": "rule", "color": "#444", "strokeWidth": 1.2},
       "encoding": {"y": {"datum": 2, "type": "quantitative", "axis": null}}}
    ]
  },
  {
    "width": 387, "height": 256,
    "layer": [
      {"data": {"values": [{}]}, "mark": {"type": "rule", "color": "#444", "strokeWidth": 1.2},
       "encoding": {"y": {"datum": 2, "type": "quantitative", "scale": {"domain": [-0.69, 9.65], "nice": false, "zero": false}, "axis": null}}},
      {"data": {"values": [{}]}, "mark": {"type": "rule", "color": "#2fb52f", "strokeDash": [2, 2], "strokeWidth": 1},
       "encoding": {"x": {"datum": 0, "type": "quantitative"}, "y": {"datum": 5.3, "type": "quantitative", "axis": null}, "y2": {"datum": -0.69}}},
      {"data": {"name": "tl"},
       "mark": {"type": "text", "baseline": "top", "dy": 3, "fontSize": 7, "color": "#555"},
       "encoding": {"x": {"field": "z", "type": "quantitative"}, "y": {"datum": 9.65, "type": "quantitative", "axis": null}, "text": {"field": "t"}}},
      {"data": {"name": "pl"}, "transform": [{"filter": "datum.p != '0.6'"}],
       "mark": {"type": "text", "baseline": "top", "dy": 7, "fontSize": 9, "color": "#444"},
       "encoding": {"x": {"field": "z", "type": "quantitative"}, "y": {"datum": -0.69, "type": "quantitative", "axis": null}, "text": {"field": "p"}}},
      {"data": {"name": "wf"}, "transform": [{"filter": "datum.k != 'fit'"}],
       "mark": {"type": "line", "color": "#f08080", "strokeDash": [2, 2], "strokeWidth": 1, "clip": true},
       "encoding": {"x": {"field": "z", "type": "quantitative"}, "y": {"field": "v", "type": "quantitative", "axis": null}, "detail": {"field": "k"}}},
      {"data": {"name": "wf"}, "transform": [{"filter": "datum.k == 'fit'"}],
       "mark": {"type": "line", "color": "#f08080", "strokeWidth": 1.3, "clip": true},
       "encoding": {"x": {"field": "z", "type": "quantitative"}, "y": {"field": "v", "type": "quantitative", "axis": null}}},
      {"data": {"values": [{}]}, "mark": {"type": "text", "text": "2.0m", "font": "Open Sans", "fontSize": 21, "color": "#111", "baseline": "alphabetic", "align": "center", "dy": -5},
       "encoding": {"x": {"datum": -0.76, "type": "quantitative"}, "y": {"datum": 2, "type": "quantitative", "axis": null}}},
      {"data": {"name": "wp"}, "mark": {"type": "circle", "color": "black", "size": 26, "opacity": 1},
       "encoding": {
         "x": {"field": "z", "type": "quantitative", "scale": {"domain": [-3.34, 3.35], "nice": false, "zero": false},
               "axis": {"values": [-3.0902,-2.5758,-2.3263,-2.0537,-1.6449,-1.2816,-0.8416,-0.5244,-0.2533,0,0.2533,0.5244,0.8416,1.2816,1.6449,2.0537,2.3263,2.5758,3.0902],
                        "labels": false, "grid": true, "gridColor": "#d4d4d4", "domain": false, "tickSize": 4, "tickColor": "#bbb",
                        "title": "Normal Quantile Plot", "titleFontSize": 10, "titleFontWeight": "normal", "titleColor": "#333", "titleAnchor": "start", "titleAlign": "left", "titleX": 0, "titleY": 29, "titleBaseline": "middle"}},
         "y": {"field": "v", "type": "quantitative", "axis": null}
       }}
    ]
  }
]
}
